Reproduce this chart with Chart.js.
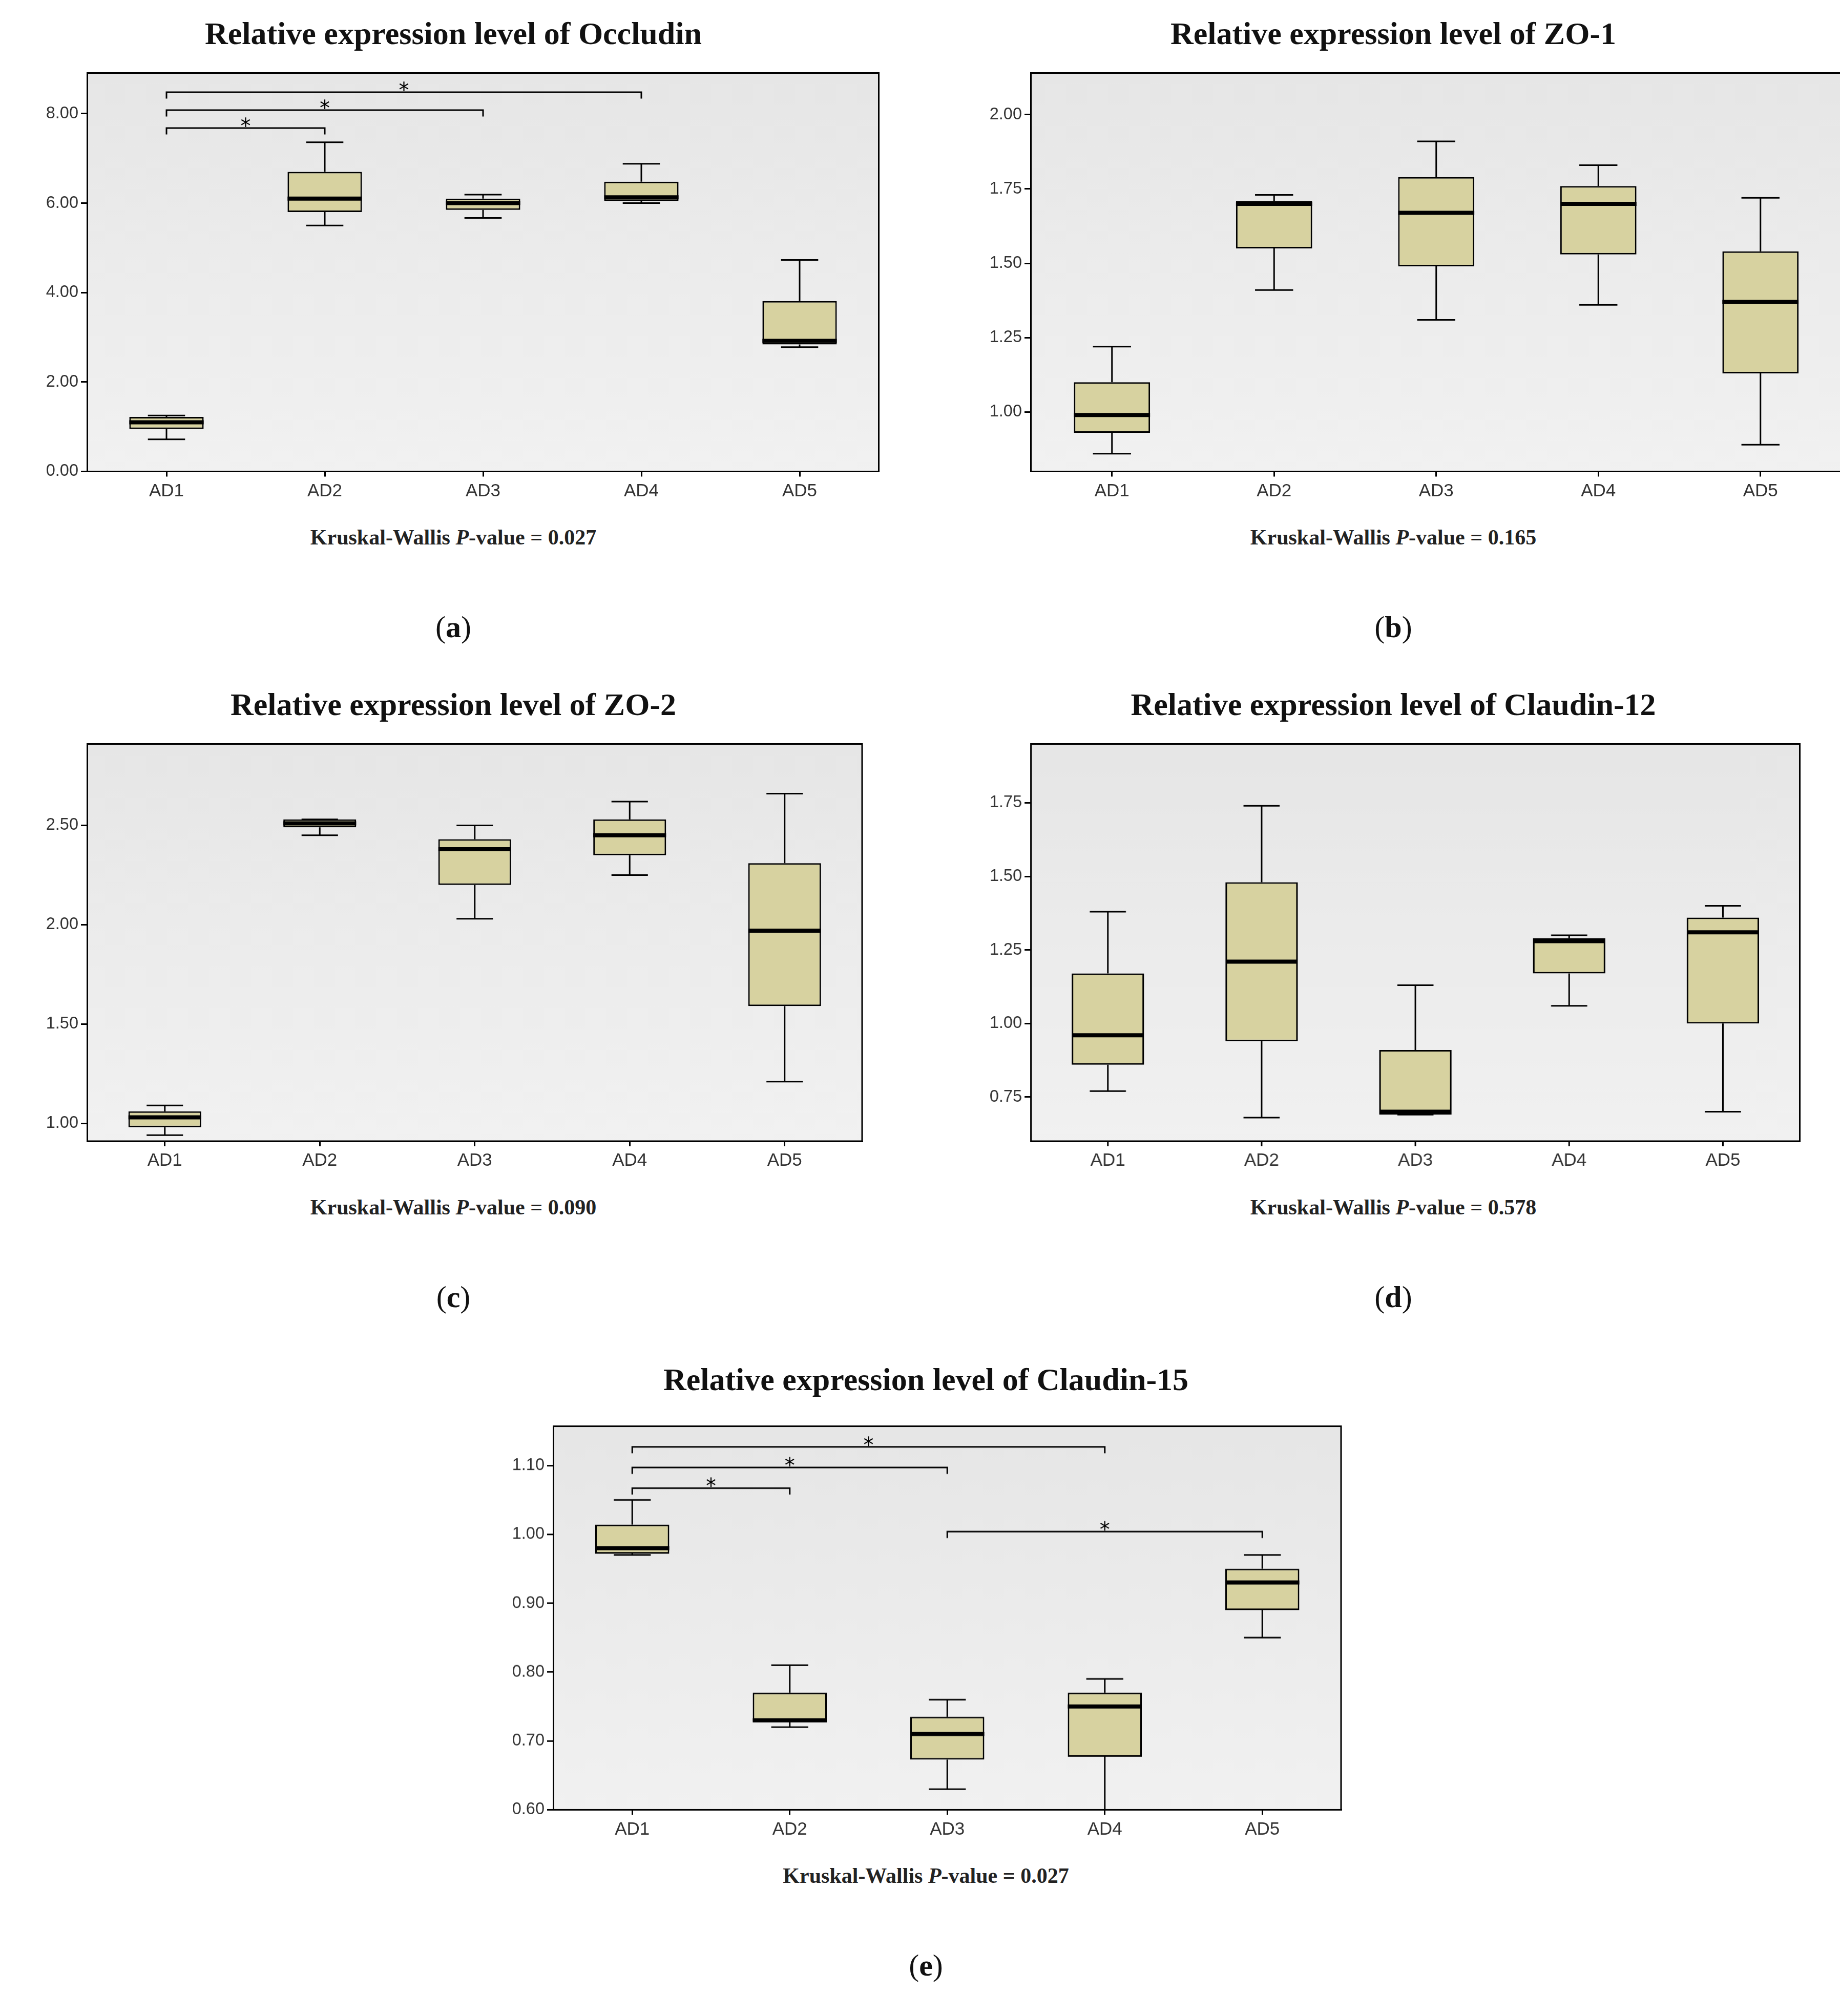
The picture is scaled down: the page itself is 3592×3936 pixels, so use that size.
<!DOCTYPE html>
<html>
<head>
<meta charset="utf-8">
<script src="https://cdn.jsdelivr.net/npm/chart.js@4.4.0/dist/chart.umd.min.js"></script>
<style>
  body { margin: 0; width: 3592px; height: 3936px; background: #fff; position: relative; overflow: hidden; }
  .title { position: absolute; font-family: "Liberation Serif", "DejaVu Serif", serif; font-weight: bold; font-size: 62px; color: #111; transform: translateX(-50%); white-space: nowrap; }
  .cap { position: absolute; font-family: "Liberation Serif", serif; font-weight: bold; font-size: 42px; color: #222; transform: translateX(-50%); white-space: nowrap; }
  .lab { position: absolute; font-family: "Liberation Serif", serif; font-size: 60px; color: #111; transform: translateX(-50%); }
  .box { position: absolute; }
</style>
</head>
<body>
<script>
const S = 2.5;
const categories = ['AD1', 'AD2', 'AD3', 'AD4', 'AD5'];

// [min, q1, median, q3, max] per group
const occludinStats = [[0.72, 0.95, 1.1, 1.22, 1.25], [5.5, 5.8, 6.1, 6.7, 7.36], [5.67, 5.85, 6.0, 6.1, 6.19], [6.0, 6.05, 6.13, 6.48, 6.88], [2.78, 2.84, 2.92, 3.81, 4.73]];
const zo1Stats = [[0.86, 0.93, 0.99, 1.10, 1.22], [1.41, 1.55, 1.70, 1.71, 1.73], [1.31, 1.49, 1.67, 1.79, 1.91], [1.36, 1.53, 1.70, 1.76, 1.83], [0.89, 1.13, 1.37, 1.54, 1.72]];
const zo2Stats = [[0.94, 0.98, 1.03, 1.06, 1.09], [2.45, 2.49, 2.51, 2.53, 2.53], [2.03, 2.20, 2.38, 2.43, 2.50], [2.25, 2.35, 2.45, 2.53, 2.62], [1.21, 1.59, 1.97, 2.31, 2.66]];
const claudin12Stats = [[0.77, 0.86, 0.96, 1.17, 1.38], [0.68, 0.94, 1.21, 1.48, 1.74], [0.69, 0.69, 0.70, 0.91, 1.13], [1.06, 1.17, 1.28, 1.29, 1.30], [0.70, 1.00, 1.31, 1.36, 1.40]];
const claudin15Stats = [[0.97, 0.972, 0.98, 1.014, 1.05], [0.72, 0.728, 0.73, 0.77, 0.81], [0.63, 0.673, 0.71, 0.735, 0.76], [0.60, 0.677, 0.75, 0.77, 0.79], [0.85, 0.89, 0.93, 0.95, 0.97]];

// significance brackets: [from index, to index, y value]
const occludinBrackets = [[0, 1, 7.68], [0, 2, 8.08], [0, 3, 8.48]];
const claudin15Brackets = [[0, 1, 1.067], [0, 2, 1.097], [0, 3, 1.127], [2, 4, 1.004]];

const occludinTicks = [0, 2, 4, 6, 8];
const zo1Ticks = [1.0, 1.25, 1.5, 1.75, 2.0];
const zo2Ticks = [1.0, 1.5, 2.0, 2.5];
const claudin12Ticks = [0.75, 1.0, 1.25, 1.5, 1.75];
const claudin15Ticks = [0.6, 0.7, 0.8, 0.9, 1.0, 1.1];

const pValues = ['0.027', '0.165', '0.090', '0.578', '0.027'];

const panels = [
  { name: 'Occludin', stats: occludinStats, ticks: occludinTicks, min: 0, max: 8.91, brackets: occludinBrackets, x: 68, y: 57, w: 618, h: 311, p: pValues[0], lab: 'a', adj: 10, cx: 354 },
  { name: 'ZO-1', stats: zo1Stats, ticks: zo1Ticks, min: 0.80, max: 2.14, brackets: [], x: 805, y: 57, w: 633, h: 311, p: pValues[1], lab: 'b', adj: 10, cx: 1088 },
  { name: 'ZO-2', stats: zo2Stats, ticks: zo2Ticks, min: 0.91, max: 2.91, brackets: [], x: 68, y: 581, w: 605, h: 310, p: pValues[2], lab: 'c', adj: 10, cx: 354 },
  { name: 'Claudin-12', stats: claudin12Stats, ticks: claudin12Ticks, min: 0.60, max: 1.95, brackets: [], x: 805, y: 581, w: 600, h: 310, p: pValues[3], lab: 'd', adj: 10, cx: 1088 },
  { name: 'Claudin-15', stats: claudin15Stats, ticks: claudin15Ticks, min: 0.60, max: 1.157, brackets: claudin15Brackets, x: 432, y: 1108, w: 615, h: 305, p: pValues[4], lab: 'e', adj: 4, cx: 723 }
];

// Draw background, whiskers, medians and brackets with the chart scales
const boxPlugin = {
  id: 'boxExtras',
  beforeDraw(chart) {
    const { ctx, chartArea: a } = chart;
    const g = ctx.createLinearGradient(0, a.top, 0, a.bottom);
    g.addColorStop(0, '#e6e6e6');
    g.addColorStop(1, '#f1f1f1');
    ctx.save();
    ctx.fillStyle = g;
    ctx.fillRect(a.left, a.top, a.right - a.left, a.bottom - a.top);
    ctx.restore();
  },
  beforeDatasetsDraw(chart) {
    const { ctx, scales: { x, y } } = chart;
    const stats = chart.options.plugins.boxExtras.stats;
    const meta = chart.getDatasetMeta(0);
    ctx.save();
    ctx.strokeStyle = '#000';
    ctx.lineWidth = 1.2 * S;
    stats.forEach((s, i) => {
      const cx = x.getPixelForValue(i);
      const half = meta.data[i].width / 2;
      ctx.beginPath();
      ctx.moveTo(cx, y.getPixelForValue(s[0]));
      ctx.lineTo(cx, y.getPixelForValue(s[1]));
      ctx.moveTo(cx, y.getPixelForValue(s[3]));
      ctx.lineTo(cx, y.getPixelForValue(s[4]));
      ctx.moveTo(cx - half / 2, y.getPixelForValue(s[0]));
      ctx.lineTo(cx + half / 2, y.getPixelForValue(s[0]));
      ctx.moveTo(cx - half / 2, y.getPixelForValue(s[4]));
      ctx.lineTo(cx + half / 2, y.getPixelForValue(s[4]));
      ctx.stroke();
    });
    ctx.restore();
  },
  afterDatasetsDraw(chart) {
    const { ctx, chartArea: a, scales: { x, y } } = chart;
    const opts = chart.options.plugins.boxExtras;
    const meta = chart.getDatasetMeta(0);
    ctx.save();
    ctx.strokeStyle = '#000';
    ctx.lineWidth = 3.2 * S;
    opts.stats.forEach((s, i) => {
      const cx = x.getPixelForValue(i);
      const half = meta.data[i].width / 2;
      const py = y.getPixelForValue(s[2]);
      ctx.beginPath();
      ctx.moveTo(cx - half, py);
      ctx.lineTo(cx + half, py);
      ctx.stroke();
    });
    ctx.lineWidth = 1.2 * S;
    ctx.fillStyle = '#000';
    ctx.font = (16 * S) + 'px "DejaVu Sans", sans-serif';
    ctx.textAlign = 'center';
    opts.brackets.forEach(b => {
      const x1 = x.getPixelForValue(b[0]);
      const x2 = x.getPixelForValue(b[1]);
      const py = y.getPixelForValue(b[2]);
      ctx.beginPath();
      ctx.moveTo(x1, py + 5 * S);
      ctx.lineTo(x1, py);
      ctx.lineTo(x2, py);
      ctx.lineTo(x2, py + 5 * S);
      ctx.stroke();
      ctx.fillText('*', (x1 + x2) / 2, py + 4 * S);
    });
    ctx.lineWidth = 1.2 * S;
    ctx.strokeRect(a.left, a.top, a.right - a.left, a.bottom - a.top);
    ctx.restore();
  }
};

function addText(cls, text, x, y) {
  const d = document.createElement('div');
  d.className = cls;
  d.innerHTML = text;
  d.style.left = (x * S) + 'px';
  d.style.top = (y * S) + 'px';
  document.body.appendChild(d);
}

panels.forEach(p => {
  const leftPad = 75, bottomPad = 40;
  const div = document.createElement('div');
  div.className = 'box';
  div.style.left = ((p.x - leftPad) * S) + 'px';
  div.style.top = ((p.y - p.adj) * S) + 'px';
  div.style.width = ((p.w + leftPad + 4) * S) + 'px';
  div.style.height = ((p.h + bottomPad + p.adj) * S) + 'px';
  const canvas = document.createElement('canvas');
  div.appendChild(canvas);
  document.body.appendChild(div);

  addText('title', 'Relative expression level of ' + p.name, p.cx, p.y - 45);
  addText('cap', 'Kruskal-Wallis <i>P</i>-value = ' + p.p, p.cx, p.y + p.h + 42);
  addText('lab', '(<b>' + p.lab + '</b>)', p.cx, p.y + p.h + 108);

  new Chart(canvas, {
    type: 'bar',
    data: {
      labels: categories,
      datasets: [{
        data: p.stats.map(s => [s[1], s[3]]),
        backgroundColor: '#d7d2a0',
        borderColor: '#000',
        borderWidth: 1.2 * S,
        borderSkipped: false,
        categoryPercentage: 1,
        barPercentage: 0.47
      }]
    },
    options: {
      responsive: true,
      maintainAspectRatio: false,
      animation: false,
      devicePixelRatio: 1,
      layout: { padding: { top: 0, right: 4 * S, left: 0, bottom: 0 } },
      plugins: {
        legend: { display: false },
        tooltip: { enabled: false },
        boxExtras: { stats: p.stats, brackets: p.brackets }
      },
      scales: {
        x: {
          afterFit: s => { s.height = bottomPad * S; },
          grid: { offset: false, drawOnChartArea: false, color: '#000', tickLength: 4 * S, lineWidth: 1.2 * S },
          border: { color: '#000', width: 1.2 * S },
          ticks: { color: '#333', font: { family: 'Liberation Sans', size: 14 * S }, padding: 3 * S }
        },
        y: {
          min: p.min,
          max: p.max,
          afterFit: s => { s.width = leftPad * S; },
          afterBuildTicks: s => { s.ticks = p.ticks.map(v => ({ value: v })); },
          grid: { drawOnChartArea: false, color: '#000', tickLength: 5 * S, lineWidth: 1.2 * S },
          border: { color: '#000', width: 1.2 * S },
          ticks: { color: '#333', font: { family: 'Liberation Sans', size: 13 * S }, padding: 2 * S, callback: v => v.toFixed(2) }
        }
      }
    },
    plugins: [boxPlugin]
  });
});
</script>
</body>
</html>
